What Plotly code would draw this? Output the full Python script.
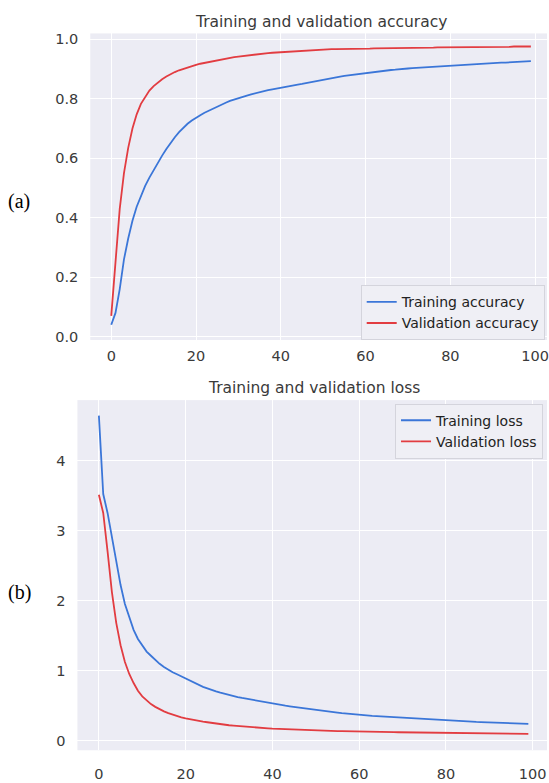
import plotly.graph_objects as go

W, H = 549, 783

epochs = list(range(100))

train_acc = [
    0.040, 0.080, 0.160, 0.260, 0.330, 0.390, 0.437, 0.475, 0.507, 0.535,
    0.561, 0.586, 0.609, 0.631, 0.652, 0.671, 0.688, 0.703, 0.716, 0.727,
    0.737, 0.745, 0.753, 0.760, 0.768, 0.775, 0.781, 0.787, 0.793, 0.798,
    0.803, 0.807, 0.811, 0.815, 0.819, 0.822, 0.826, 0.829, 0.832, 0.835,
    0.838, 0.840, 0.843, 0.845, 0.848, 0.850, 0.853, 0.856, 0.859, 0.862,
    0.865, 0.867, 0.870, 0.872, 0.875, 0.877, 0.879, 0.881, 0.883, 0.885,
    0.887, 0.889, 0.890, 0.892, 0.894, 0.895, 0.897, 0.898, 0.900, 0.901,
    0.902, 0.903, 0.904, 0.905, 0.906, 0.907, 0.908, 0.909, 0.910, 0.911,
    0.912, 0.913, 0.914, 0.915, 0.916, 0.917, 0.918, 0.918, 0.919, 0.920,
    0.920, 0.921, 0.922, 0.922, 0.923, 0.924, 0.925, 0.925, 0.926, 0.927,
]

val_acc = [
    0.070, 0.250, 0.430, 0.550, 0.635, 0.700, 0.748, 0.783, 0.808, 0.828,
    0.843, 0.856, 0.866, 0.875, 0.883, 0.890, 0.896, 0.901, 0.906, 0.910,
    0.914, 0.918, 0.921, 0.924, 0.927, 0.930, 0.933, 0.935, 0.938, 0.940,
    0.942, 0.944, 0.946, 0.948, 0.949, 0.951, 0.952, 0.954, 0.955, 0.956,
    0.957, 0.958, 0.959, 0.960, 0.961, 0.962, 0.963, 0.964, 0.964, 0.965,
    0.966, 0.966, 0.967, 0.967, 0.967, 0.968, 0.968, 0.968, 0.969, 0.969,
    0.969, 0.969, 0.970, 0.970, 0.970, 0.970, 0.971, 0.971, 0.971, 0.971,
    0.971, 0.972, 0.972, 0.972, 0.972, 0.972, 0.972, 0.973, 0.973, 0.973,
    0.973, 0.973, 0.973, 0.974, 0.974, 0.974, 0.974, 0.974, 0.974, 0.975,
    0.975, 0.975, 0.975, 0.975, 0.975, 0.976, 0.976, 0.976, 0.976, 0.976,
]

train_loss = [
    4.640, 3.520, 3.250, 2.920, 2.550, 2.220, 1.950, 1.750, 1.580, 1.450,
    1.350, 1.270, 1.210, 1.150, 1.095, 1.050, 1.010, 0.975, 0.945, 0.915,
    0.875, 0.845, 0.815, 0.790, 0.765, 0.745, 0.720, 0.700, 0.682, 0.665,
    0.646, 0.633, 0.620, 0.607, 0.595, 0.583, 0.571, 0.559, 0.548, 0.536,
    0.524, 0.515, 0.506, 0.497, 0.488, 0.479, 0.470, 0.461, 0.452, 0.443,
    0.435, 0.427, 0.420, 0.412, 0.405, 0.398, 0.391, 0.384, 0.377, 0.370,
    0.364, 0.360, 0.356, 0.352, 0.348, 0.344, 0.340, 0.336, 0.332, 0.328,
    0.324, 0.319, 0.315, 0.311, 0.307, 0.303, 0.299, 0.295, 0.291, 0.287,
    0.283, 0.280, 0.278, 0.275, 0.273, 0.270, 0.268, 0.265, 0.263, 0.260,
    0.258, 0.256, 0.253, 0.251, 0.249, 0.246, 0.244, 0.242, 0.239, 0.237,
]

val_loss = [
    3.510, 3.250, 2.700, 2.120, 1.680, 1.360, 1.120, 0.950, 0.820, 0.710,
    0.630, 0.570, 0.520, 0.480, 0.445, 0.415, 0.390, 0.368, 0.348, 0.331,
    0.316, 0.302, 0.290, 0.280, 0.270, 0.260, 0.250, 0.241, 0.232, 0.224,
    0.217, 0.211, 0.205, 0.199, 0.194, 0.189, 0.185, 0.181, 0.177, 0.173,
    0.169, 0.166, 0.163, 0.160, 0.157, 0.155, 0.152, 0.150, 0.147, 0.145,
    0.143, 0.141, 0.139, 0.137, 0.135, 0.134, 0.132, 0.130, 0.129, 0.127,
    0.126, 0.125, 0.124, 0.123, 0.122, 0.121, 0.120, 0.119, 0.118, 0.117,
    0.116, 0.115, 0.114, 0.113, 0.112, 0.111, 0.110, 0.109, 0.108, 0.107,
    0.106, 0.105, 0.105, 0.104, 0.103, 0.102, 0.102, 0.101, 0.100, 0.099,
    0.099, 0.098, 0.097, 0.097, 0.096, 0.095, 0.095, 0.094, 0.093, 0.093,
]

x_ticks = [0, 20, 40, 60, 80, 100]
acc_ticks = [0.0, 0.2, 0.4, 0.6, 0.8, 1.0]
loss_ticks = [0, 1, 2, 3, 4]

titles = ["Training and validation accuracy", "Training and validation loss"]
panel_labels = ["(a)", "(b)"]
names = ["Training accuracy", "Validation accuracy", "Training loss", "Validation loss"]

BLUE = "#3B76D8"
RED = "#E23C41"
BG = "#ECECF4"
TXT = "#3A3A3A"
TICKFONT = dict(family="DejaVu Sans", size=14.5, color=TXT)

fig = go.Figure()
fig.add_trace(go.Scatter(x=epochs, y=train_acc, mode="lines", name=names[0],
                         line=dict(color=BLUE, width=1.8), xaxis="x", yaxis="y", legend="legend"))
fig.add_trace(go.Scatter(x=epochs, y=val_acc, mode="lines", name=names[1],
                         line=dict(color=RED, width=1.8), xaxis="x", yaxis="y", legend="legend"))
fig.add_trace(go.Scatter(x=epochs, y=train_loss, mode="lines", name=names[2],
                         line=dict(color=BLUE, width=1.8), xaxis="x2", yaxis="y2", legend="legend2"))
fig.add_trace(go.Scatter(x=epochs, y=val_loss, mode="lines", name=names[3],
                         line=dict(color=RED, width=1.8), xaxis="x2", yaxis="y2", legend="legend2"))

def px_x(p):
    return p / W

def px_y(p):
    return 1 - p / H

axis_common = dict(showgrid=True, gridcolor="white", gridwidth=1.4, zeroline=False,
                   showline=False, ticks="", tickfont=TICKFONT)

legend_common = dict(bgcolor="#EFEFF5", bordercolor="#D4D4DC", borderwidth=1,
                     font=dict(family="DejaVu Sans", size=14, color="#222222"),
                     itemwidth=30, tracegroupgap=0)

fig.update_layout(
    width=W, height=H,
    margin=dict(l=0, r=0, t=0, b=0),
    paper_bgcolor="white", plot_bgcolor=BG,
    xaxis=dict(domain=[px_x(90.6), 1.0], range=[-4.95, 102.8], tickvals=x_ticks,
               anchor="y", ticklabelstandoff=6, ticklabeloverflow="allow", **axis_common),
    yaxis=dict(domain=[px_y(341), px_y(31.7)], range=[-0.011, 1.02], tickvals=acc_ticks,
               tickformat=".1f", anchor="x", ticklabelstandoff=11, **axis_common),
    xaxis2=dict(domain=[px_x(77.7), 1.0], range=[-4.95, 103.3], tickvals=x_ticks,
                anchor="y2", ticklabelstandoff=13, ticklabeloverflow="allow", **axis_common),
    yaxis2=dict(domain=[px_y(755), px_y(401.7)], range=[-0.14, 4.862], tickvals=loss_ticks,
                anchor="x2", ticklabelstandoff=11, **axis_common),
    legend=dict(x=px_x(546.7), y=px_y(313.5), xanchor="right", yanchor="middle", **legend_common),
    legend2=dict(x=px_x(545), y=px_y(433), xanchor="right", yanchor="middle", **legend_common),
    showlegend=True,
)

fig.add_annotation(text=titles[0], x=px_x(322), y=px_y(20.3), xref="paper", yref="paper",
                   xanchor="center", yanchor="middle", showarrow=False,
                   font=dict(family="DejaVu Sans", size=15.5, color=TXT))
fig.add_annotation(text=titles[1], x=px_x(315), y=px_y(389.5), xref="paper", yref="paper",
                   xanchor="center", yanchor="middle", showarrow=False,
                   font=dict(family="DejaVu Sans", size=15.5, color=TXT))
fig.add_annotation(text=panel_labels[0], x=px_x(19.5), y=px_y(201), xref="paper", yref="paper",
                   xanchor="center", yanchor="middle", showarrow=False,
                   font=dict(family="Liberation Serif", size=20, color="black"))
fig.add_annotation(text=panel_labels[1], x=px_x(19.5), y=px_y(596), xref="paper", yref="paper",
                   xanchor="center", yanchor="middle", showarrow=False,
                   font=dict(family="Liberation Serif", size=20, color="black"))

fig.write_html("out.html")
